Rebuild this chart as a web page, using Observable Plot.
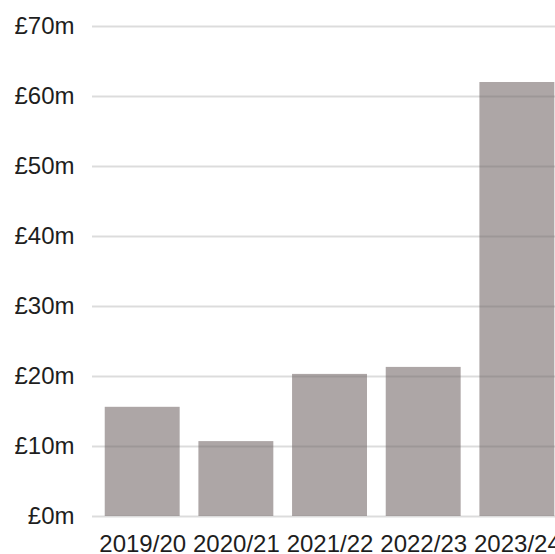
<!DOCTYPE html>
<html>
<head>
<meta charset="utf-8">
<script src="https://cdn.jsdelivr.net/npm/d3@7"></script>
<script src="https://cdn.jsdelivr.net/npm/@observablehq/plot@0.6"></script>
<style>
  html, body { margin: 0; padding: 0; background: #fff; }
  #chart svg { display: block; }
</style>
</head>
<body>
<div id="chart"></div>
<script>
const years = ["2019/20", "2020/21", "2021/22", "2022/23", "2023/24"];
const values = [15.6, 10.7, 20.3, 21.3, 62.0];
const yTicks = [0, 10, 20, 30, 40, 50, 60, 70];

const data = years.map((y, i) => ({year: y, value: values[i]}));

const chart = Plot.plot({
  width: 555,
  height: 554,
  marginTop: 26,
  marginBottom: 38,
  marginLeft: 92,
  marginRight: 0,
  style: {fontFamily: "'Liberation Sans', Arial, sans-serif", fontSize: "24px", color: "#1e1e1e", background: "#fff", overflow: "hidden"},
  x: {domain: years, paddingInner: 0.2, paddingOuter: 0.0715, align: 0.95, round: false, label: null},
  y: {domain: [0, 70], label: null},
  marks: [
    Plot.barY(data, {x: "year", y: "value", fill: "#ada6a6"}),
    Plot.ruleY(yTicks, {stroke: "#666", strokeOpacity: 0.23, strokeWidth: 2}),
    Plot.axisY(yTicks, {tickSize: 0, tickPadding: 18, tickFormat: d => `£${d}m`, label: null, fontSize: 24}),
    Plot.axisX({tickSize: 0, tickPadding: 18, label: null, fontSize: 24})
  ]
});
document.getElementById("chart").appendChild(chart);
</script>
</body>
</html>
